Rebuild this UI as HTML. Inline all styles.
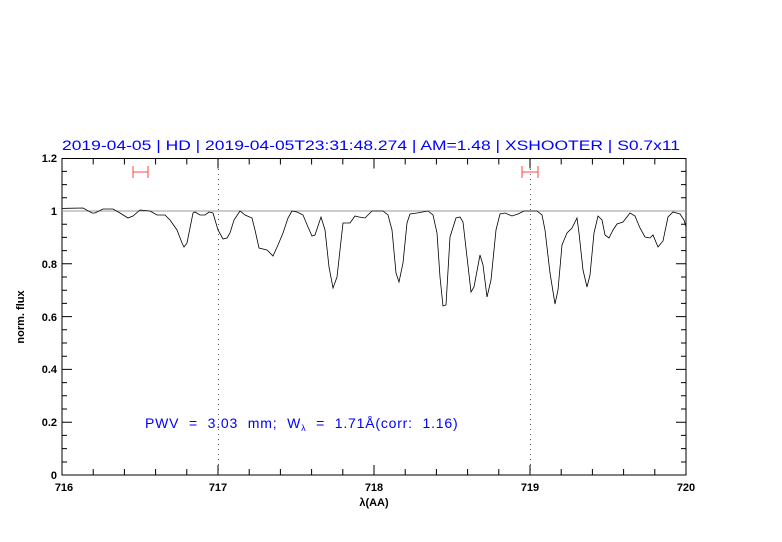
<!DOCTYPE html>
<html><head><style>body{margin:0;background:#fff}svg{display:block}</style></head><body>
<svg width="782" height="542" xmlns="http://www.w3.org/2000/svg" font-family="Liberation Sans, sans-serif">
<rect width="782" height="542" fill="#fff"/>
<text x="62" y="150" fill="#0000ff" font-size="13.5" textLength="618" lengthAdjust="spacingAndGlyphs">2019-04-05 | HD | 2019-04-05T23:31:48.274 | AM=1.48 | XSHOOTER | S0.7x11</text>
<g stroke="#000" stroke-width="1">
<rect x="62" y="158.5" width="624" height="316.5" fill="none"/>
<path d="M93.2,475v-6M124.4,475v-6M155.6,475v-6M186.8,475v-6M218,475v-10M249.2,475v-6M280.4,475v-6M311.6,475v-6M342.8,475v-6M374,475v-10M405.2,475v-6M436.4,475v-6M467.6,475v-6M498.8,475v-6M530,475v-10M561.2,475v-6M592.4,475v-6M623.6,475v-6M654.8,475v-6
M93.2,158.5v6M124.4,158.5v6M155.6,158.5v6M186.8,158.5v6M218,158.5v10M249.2,158.5v6M280.4,158.5v6M311.6,158.5v6M342.8,158.5v6M374,158.5v10M405.2,158.5v6M436.4,158.5v6M467.6,158.5v6M498.8,158.5v6M530,158.5v10M561.2,158.5v6M592.4,158.5v6M623.6,158.5v6M654.8,158.5v6"/>
<path d="M62,462h5M62,448.6h5M62,435.4h5M62,422.2h10M62,409h5M62,395.8h5M62,382.6h5M62,369.4h10M62,356.2h5M62,343h5M62,329.8h5M62,316.6h10M62,303.4h5M62,290.2h5M62,277h5M62,263.8h10M62,250.6h5M62,237.4h5M62,224.2h5M62,211h10M62,197.8h5M62,184.6h5M62,171.4h5
M686,462h-5M686,448.6h-5M686,435.4h-5M686,422.2h-10M686,409h-5M686,395.8h-5M686,382.6h-5M686,369.4h-10M686,356.2h-5M686,343h-5M686,329.8h-5M686,316.6h-10M686,303.4h-5M686,290.2h-5M686,277h-5M686,263.8h-10M686,250.6h-5M686,237.4h-5M686,224.2h-5M686,211h-10M686,197.8h-5M686,184.6h-5M686,171.4h-5"/>
</g>
<line x1="62" y1="211" x2="686" y2="211" stroke="#999" stroke-width="1"/>
<line x1="218.5" y1="159" x2="218.5" y2="475" stroke="#555" stroke-width="1" stroke-dasharray="1,4"/>
<line x1="530.5" y1="159" x2="530.5" y2="475" stroke="#555" stroke-width="1" stroke-dasharray="1,4"/>
<g stroke="#f44" stroke-width="1" fill="none"><path d="M133,172h15M133,166v12M148,166v12M522,172h16M522,166v12M538,166v12"/></g>
<polyline fill="none" stroke="#000" stroke-width="0.8" points="62,208.5 66.7,208.3 83,208 92,213 95,213 103,209 113,209 120,213 128,218 133,216 140,210 150,211 157,215 165,215 170,220 177,230 182,243 184,247 187,243 193,213 195,212 200,215 205,215 209,212 213,213 218,230 223,239 227,238 230,233 234,220 240,211 245,215 252,218 255,230 259,248 267,250 273,256 278,245 283,233 288,218 292,211 297,212 303,215 308,227 312,236 315,235 321,217 325,230 329,267 333,288 337,277 343,223 350,223 355,216 359,217 365,218 372,211 383,211 388,215 392,230 396,273 399,282 403,263 407,223 410,214 417,213 428,211 433,215 437,233 440,277 443,306 446,305 450,237 456,218 460,217 463,222 467,257 471,292 474,287 480,255 483,265 487,297 491,280 496,230 500,214 505,213 512,216 518,214 524,211 537,211 542,215 545,230 550,273 555,304 558,290 562,245 567,233 572,228 577,218 579,233 583,270 587,287 590,275 594,233 598,216 602,220 605,235 609,238 613,230 617,224 623,222 630,213 635,216 640,228 645,237 650,238 653,235 658,247 663,241 668,217 673,212 680,214 684,220 686,227"/>
<g font-size="11" fill="#000" text-anchor="end" font-weight="bold">
<text x="57" y="479">0</text><text x="57" y="426">0.2</text><text x="57" y="373">0.4</text><text x="57" y="321">0.6</text><text x="57" y="268">0.8</text><text x="57" y="215">1</text><text x="57" y="162">1.2</text>
</g>
<g font-size="11" fill="#000" text-anchor="middle" font-weight="bold">
<text x="64" y="491">716</text><text x="218" y="491">717</text><text x="374" y="491">718</text><text x="530" y="491">719</text><text x="686" y="491">720</text>
<text x="374" y="506">λ(AA)</text>
<text transform="translate(24,317) rotate(-90)">norm. flux</text>
</g>
<text x="145" y="428" fill="#0000ff" font-size="14" word-spacing="5" letter-spacing="0.8">PWV = 3.03 mm; W<tspan font-size="9" dy="3">λ</tspan><tspan dy="-3"> = 1.71Å(corr: 1.16)</tspan></text>
</svg>
</body></html>
